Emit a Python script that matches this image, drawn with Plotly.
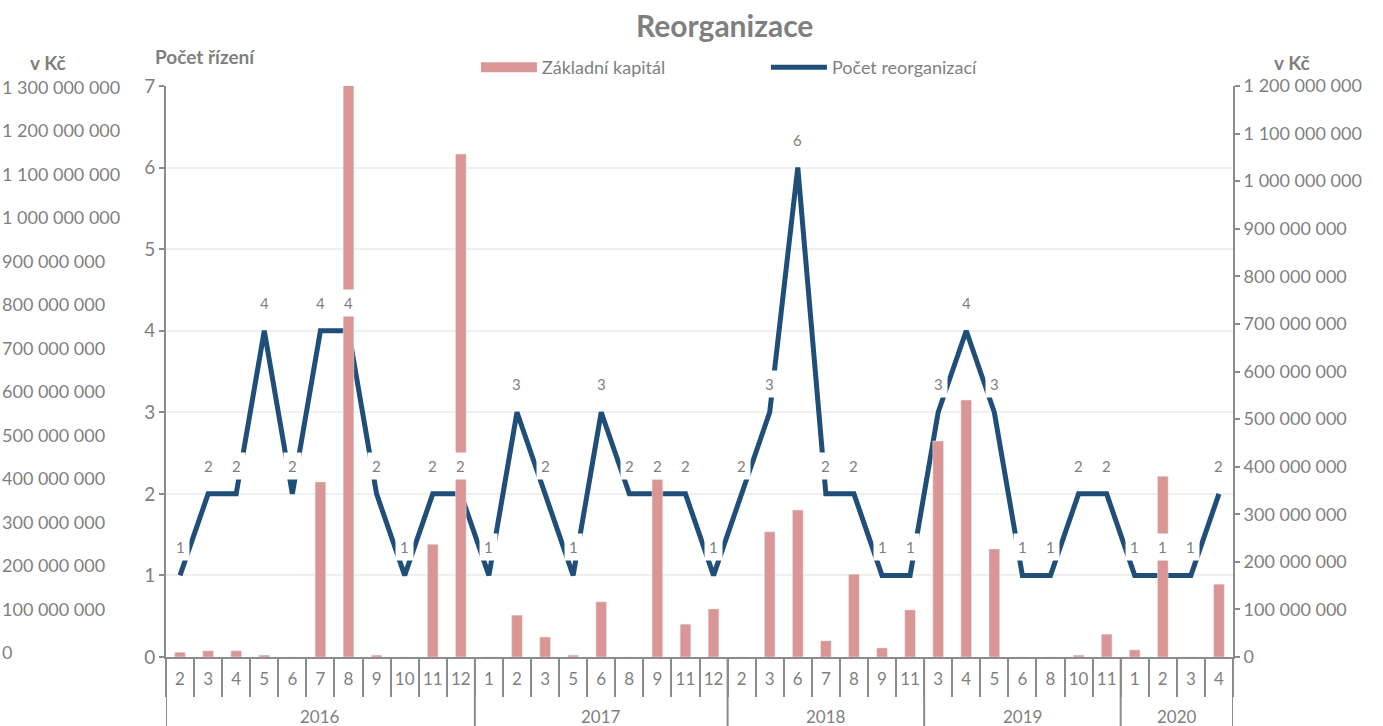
import plotly.graph_objects as go

# Reorganizace podle měsíců
ROKY = ["2016"] * 11 + ["2017"] * 9 + ["2018"] * 7 + ["2019"] * 7 + ["2020"] * 4
MESICE = ["2", "3", "4", "5", "6", "7", "8", "9", "10", "11", "12",
          "1", "2", "3", "5", "6", "8", "9", "11", "12",
          "2", "3", "6", "7", "8", "9", "11",
          "3", "4", "5", "6", "8", "10", "11",
          "1", "2", "3", "4"]

POCET = [1, 2, 2, 4, 2, 4, 4, 2, 1, 2, 2,
         1, 3, 2, 1, 3, 2, 2, 2, 1,
         2, 3, 6, 2, 2, 1, 1,
         3, 4, 3, 1, 1, 2, 2,
         1, 1, 1, 2]

KAPITAL = [10e6, 13e6, 13e6, 4e6, 0, 368e6, 1350e6, 4e6, 0, 237e6, 1057e6,
           0, 88e6, 42e6, 4e6, 116e6, 0, 374e6, 69e6, 101e6,
           0, 263e6, 309e6, 34e6, 174e6, 19e6, 99e6,
           454e6, 540e6, 227e6, 0, 0, 4e6, 48e6,
           15e6, 380e6, 0, 153e6]

TICKS_RIGHT = [i * 100e6 for i in range(13)]
TICKS_LEFT_KC = [i * 100e6 for i in range(14)]

BAR_COLOUR = "#D99694"
LINE_COLOUR = "#1F4E79"
GREY = "#7F7F7F"
AXIS_GREY = "#8C8C8C"
FONT = "Lato"


def kc(v):
    return f"{int(v):,}".replace(",", " ")


idx = list(range(len(MESICE)))

fig = go.Figure()

fig.add_trace(go.Bar(
    x=idx,
    y=KAPITAL,
    name="Základní kapitál",
    marker_color=BAR_COLOUR,
    yaxis="y2",
    showlegend=False,
))

# legend entry for the bars: wide rectangle like Excel
fig.add_trace(go.Scatter(
    x=[None], y=[None], name="Základní kapitál", mode="lines",
    line=dict(color=BAR_COLOUR, width=12), hoverinfo="skip",
))

fig.add_trace(go.Scatter(
    x=idx,
    y=POCET,
    name="Počet reorganizací",
    mode="lines",
    line=dict(color=LINE_COLOUR, width=5),
))

# invisible trace so the outer Kč axis exists
fig.add_trace(go.Scatter(x=[0], y=[0], yaxis="y3", mode="markers",
                         marker=dict(opacity=0), showlegend=False, hoverinfo="skip"))

# data labels with white boxes (like Excel)
for i, v in enumerate(POCET):
    fig.add_annotation(
        x=i, y=v, xref="x", yref="y",
        text=str(v), showarrow=False, yshift=28,
        bgcolor="white", borderpad=4,
        font=dict(family=FONT, size=15, color=GREY),
    )

# outer left Kč labels (left aligned text box in the original)
for v in TICKS_LEFT_KC:
    fig.add_annotation(
        x=0, y=v, xref="paper", yref="y3", xanchor="left",
        text=kc(v), showarrow=False,
        font=dict(family=FONT, size=18, color=GREY),
    )

# year groups: labels + dividers
years = []
for r in ROKY:
    if r not in years:
        years.append(r)
for r in years:
    first = ROKY.index(r)
    last = len(ROKY) - 1 - ROKY[::-1].index(r)
    fig.add_annotation(
        x=(first + last) / 2, y=-0.105, xref="x", yref="paper",
        text=r, showarrow=False, yanchor="middle",
        font=dict(family=FONT, size=17, color=GREY),
    )
    fig.add_shape(type="line", x0=first - 0.5, x1=first - 0.5, y0=0, y1=-0.13,
                  xref="x", yref="paper", line=dict(color=AXIS_GREY, width=2))
fig.add_shape(type="line", x0=len(ROKY) - 0.5, x1=len(ROKY) - 0.5, y0=0, y1=-0.13,
              xref="x", yref="paper", line=dict(color=AXIS_GREY, width=2))

# axis titles
for txt, x, y in [("v Kč", 0.039, 1.042), ("Počet řízení", 0.166, 1.0525), ("v Kč", 1.048, 1.042)]:
    fig.add_annotation(
        x=x, y=y, xref="paper", yref="paper", text=f"<b>{txt}</b>",
        xanchor="center", yanchor="middle",
        showarrow=False, font=dict(family=FONT, size=19, color=GREY),
    )

fig.update_layout(
    width=1383,
    height=726,
    margin=dict(l=0, r=150, t=86, b=69, autoexpand=False),
    plot_bgcolor="white",
    paper_bgcolor="white",
    separators=", ",
    font=dict(family=FONT, color=GREY),
    title=dict(text="<b>Reorganizace</b>", x=0.524, xanchor="center", y=0.963, yanchor="middle",
               font=dict(family=FONT, size=30, color=GREY)),
    bargap=0.62,
    showlegend=True,
    legend=dict(orientation="h", x=0.386, xanchor="left", y=1.0, yanchor="bottom",
                font=dict(family=FONT, size=18, color=GREY), itemwidth=56,
                entrywidth=219, entrywidthmode="pixels", traceorder="normal"),
    xaxis=dict(
        domain=[166 / 1233, 1],
        range=[-0.5, len(MESICE) - 0.5],
        tickmode="array", tickvals=idx, ticktext=MESICE,
        showline=True, linecolor=AXIS_GREY, linewidth=2,
        ticks="outside", ticklen=6, tickcolor="rgba(0,0,0,0)",
        minor=dict(tickmode="array", tickvals=[i - 0.5 for i in range(len(MESICE) + 1)],
                   ticks="outside", ticklen=38, tickcolor=AXIS_GREY, tickwidth=2),
        tickfont=dict(family=FONT, size=17, color=GREY),
        showgrid=False, zeroline=False,
    ),
    yaxis=dict(
        range=[0, 7], dtick=1,
        showline=True, linecolor=AXIS_GREY, linewidth=2,
        ticks="outside", ticklen=5, tickcolor=AXIS_GREY, tickwidth=2,
        gridcolor="#EFEFEF", gridwidth=2, zeroline=False,
        tickfont=dict(family=FONT, size=19, color=GREY),
    ),
    yaxis2=dict(
        overlaying="y", side="right", anchor="x",
        range=[0, 1.2e9], tickvals=TICKS_RIGHT, tickformat=",d",
        showline=True, linecolor=AXIS_GREY, linewidth=2,
        ticks="outside", ticklen=5, tickcolor=AXIS_GREY, tickwidth=2,
        showgrid=False, zeroline=False,
        tickfont=dict(family=FONT, size=18, color=GREY),
    ),
    yaxis3=dict(
        overlaying="y", side="left", anchor="free", position=0,
        range=[-11.5e6, 1.3023e9],
        showticklabels=False, showline=False, ticks="",
        showgrid=False, zeroline=False,
    ),
)

fig.write_html("out.html", config={"displayModeBar": False},
               post_script="document.body.style.margin='0px';")
